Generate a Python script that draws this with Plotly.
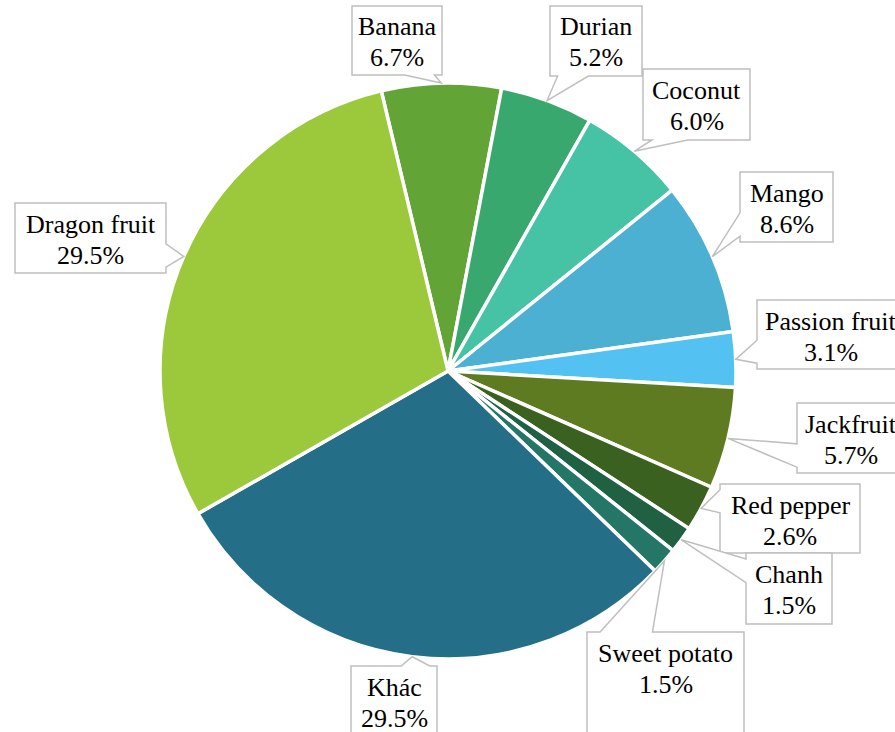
import math
import plotly.graph_objects as go

# Share of fruit and vegetable export value (%)
categories = ["Banana", "Durian", "Coconut", "Mango", "Passion fruit", "Jackfruit",
              "Red pepper", "Chanh", "Sweet potato", "Khác", "Dragon fruit"]
shares = [6.7, 5.2, 6.0, 8.6, 3.1, 5.7, 2.6, 1.5, 1.5, 29.5, 29.5]
colors = ["#63A437", "#38A86F", "#46C2A5", "#4BB0D1", "#53C1F2", "#5E7B22",
          "#3B6121", "#1F6142", "#247766", "#246F87", "#9BC93B"]

W, H = 895, 732
CX, CY, R = 448, 371, 288          # pie centre and radius in pixels
ROTATION = -13.4                    # start angle of the first slice (deg, clockwise from 12 o'clock)

# Callout boxes (pixel rectangles: left, top, right, bottom)
boxes = [
    (352, 6, 442, 75), (550, 6, 642, 76), (643, 69, 750, 140), (740, 172, 833, 242),
    (757, 300, 905, 369), (797, 403, 905, 473), (720, 484, 860, 553), (746, 553, 832, 624),
    (587, 632, 744, 742), (351, 666, 437, 745), (15, 203, 166, 273),
]

FONT = dict(family="Liberation Serif", size=26, color="black")


def px(x, y):
    return x / W, 1 - y / H


def callout_path(box, tip):
    x0, y0, x1, y1 = box
    tx, ty = tip
    w, h = x1 - x0, y1 - y0
    dx, dy = tx - (x0 + x1) / 2, ty - (y0 + y1) / 2
    vertical = abs(dy) / h > abs(dx) / w
    if vertical:
        side = "top" if dy < 0 else "bottom"
        b0, b1 = (x0 + w / 12, x0 + 5 * w / 12) if dx < 0 else (x0 + 7 * w / 12, x0 + 11 * w / 12)
    else:
        side = "left" if dx < 0 else "right"
        b0, b1 = (y0 + h / 12, y0 + 5 * h / 12) if dy < 0 else (y0 + 7 * h / 12, y0 + 11 * h / 12)
    pts = [(x0, y0)]
    if side == "top":
        pts += [(b0, y0), (tx, ty), (b1, y0)]
    pts += [(x1, y0)]
    if side == "right":
        pts += [(x1, b0), (tx, ty), (x1, b1)]
    pts += [(x1, y1)]
    if side == "bottom":
        pts += [(b1, y1), (tx, ty), (b0, y1)]
    pts += [(x0, y1)]
    if side == "left":
        pts += [(x0, b1), (tx, ty), (x0, b0)]
    coords = [px(*p) for p in pts]
    return "M " + " L ".join(f"{a:.5f},{b:.5f}" for a, b in coords) + " Z"


fig = go.Figure(go.Pie(
    labels=categories,
    values=shares,
    sort=False,
    direction="clockwise",
    rotation=ROTATION,
    marker=dict(colors=colors, line=dict(color="white", width=3.5)),
    textinfo="none",
    hoverinfo="label+percent",
    showlegend=False,
    domain=dict(x=[(CX - R) / W, (CX + R) / W], y=[1 - (CY + R) / H, 1 - (CY - R) / H]),
))

total = sum(shares)
shapes, annotations = [], []
cum = 0.0
for name, v, box in zip(categories, shares, boxes):
    mid = math.radians(ROTATION + (cum + v / 2) / total * 360)
    cum += v
    tip = (CX + R * math.sin(mid), CY - R * math.cos(mid))
    shapes.append(dict(type="path", xref="paper", yref="paper", layer="above",
                       path=callout_path(box, tip), fillcolor="white",
                       line=dict(color="#BFBFBF", width=1.5)))
    x0, y0, x1, y1 = box
    xc = (x0 + x1) / 2
    for text, base in ((name, y0 + 30), (f"{v:.1f}%", y0 + 61)):
        ax, ay = px(xc, base - 9)
        annotations.append(dict(x=ax, y=ay, xref="paper", yref="paper", text=text,
                                showarrow=False, xanchor="center", yanchor="middle",
                                font=FONT))

fig.update_layout(
    width=W, height=H,
    margin=dict(l=0, r=0, t=0, b=0),
    paper_bgcolor="white", plot_bgcolor="white",
    shapes=shapes, annotations=annotations,
)

fig.write_html("out.html")
